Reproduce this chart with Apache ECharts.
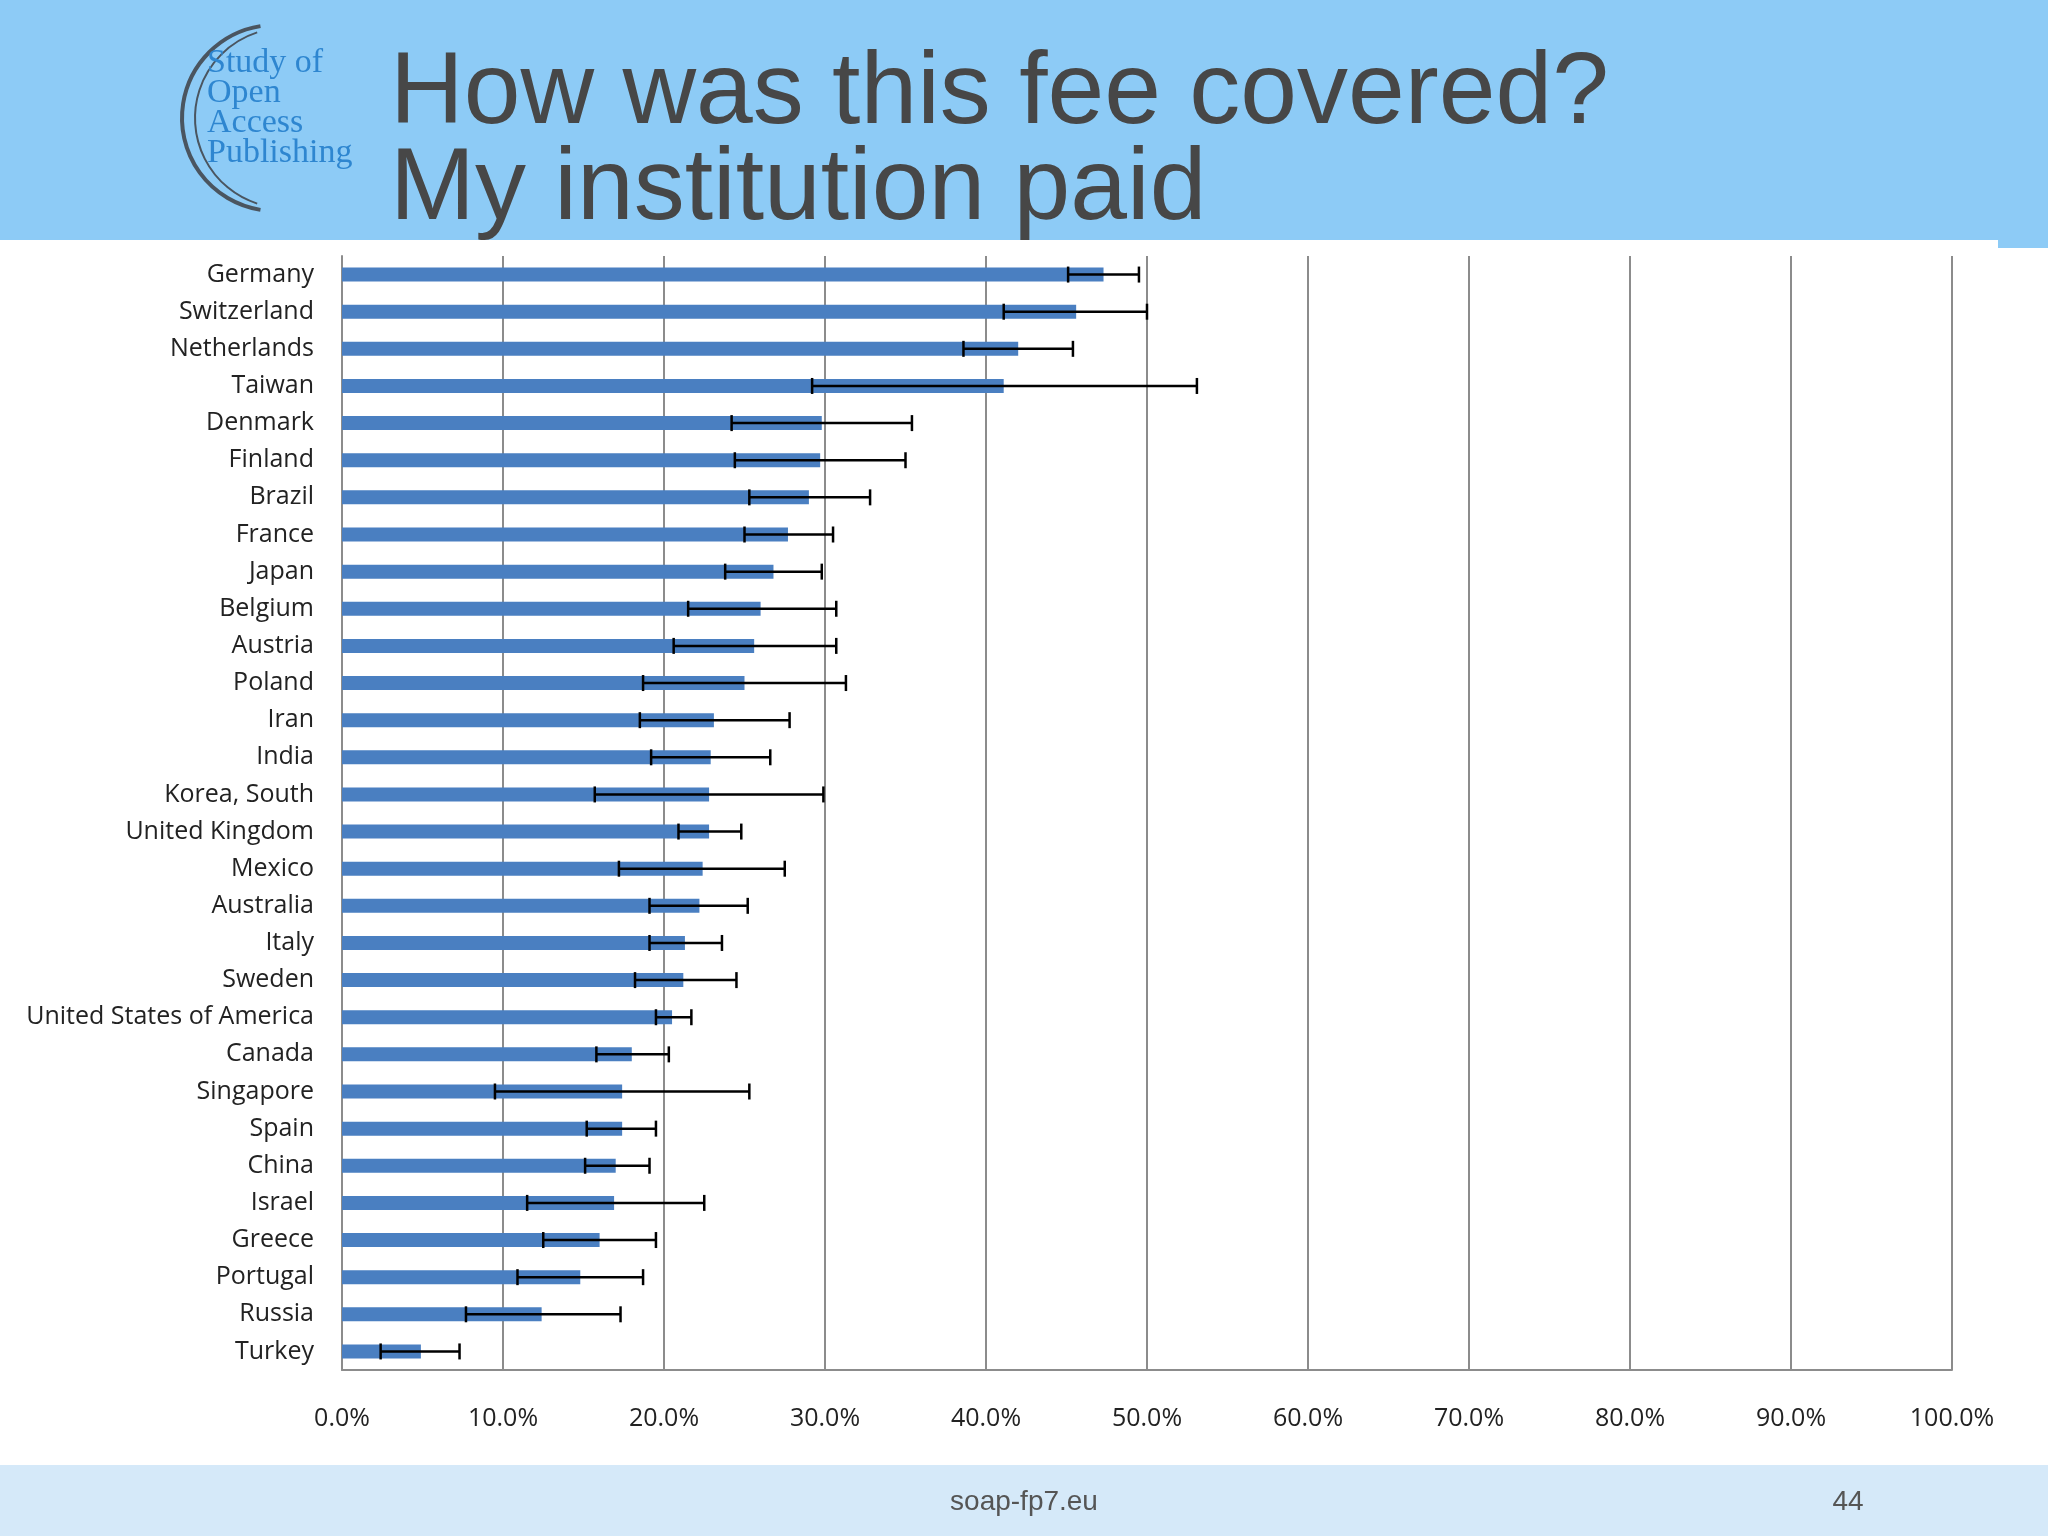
<!DOCTYPE html>
<html><head><meta charset="utf-8">
<script src="https://cdn.jsdelivr.net/npm/echarts@6/dist/echarts.min.js"></script>
<style>html,body{margin:0;padding:0;background:#fff}#c{width:2048px;height:1536px}</style>
</head><body><div id="c"></div>
<script>
const countries = ["Germany","Switzerland","Netherlands","Taiwan","Denmark","Finland","Brazil","France","Japan","Belgium","Austria","Poland","Iran","India","Korea, South","United Kingdom","Mexico","Australia","Italy","Sweden","United States of America","Canada","Singapore","Spain","China","Israel","Greece","Portugal","Russia","Turkey"];
const values = [47.3,45.6,42.0,41.1,29.8,29.7,29.0,27.7,26.8,26.0,25.6,25.0,23.1,22.9,22.8,22.8,22.4,22.2,21.3,21.2,20.5,18.0,17.4,17.4,17.0,16.9,16.0,14.8,12.4,4.9];
const lowErr = [45.1,41.1,38.6,29.2,24.2,24.4,25.3,25.0,23.8,21.5,20.6,18.7,18.5,19.2,15.7,20.9,17.2,19.1,19.1,18.2,19.5,15.8,9.5,15.2,15.1,11.5,12.5,10.9,7.7,2.4];
const highErr = [49.5,50.0,45.4,53.1,35.4,35.0,32.8,30.5,29.8,30.7,30.7,31.3,27.8,26.6,29.9,24.8,27.5,25.2,23.6,24.5,21.7,20.3,25.3,19.5,19.1,22.5,19.5,18.7,17.3,7.3];
const xTicks = [0,10,20,30,40,50,60,70,80,90,100];

const chart = echarts.init(document.getElementById('c'));
const errData = countries.map((c,i)=>[i,lowErr[i],highErr[i]]);
chart.setOption({
  animation:false,
  grid:{left:342,right:96,top:256,bottom:166},
  xAxis:{type:'value',min:0,max:100,interval:10,position:'bottom',
    axisLine:{show:true,lineStyle:{color:'#8c8c8c',width:2}},axisTick:{show:false},
    splitLine:{lineStyle:{color:'#8c8c8c',width:2}},
    axisLabel:{margin:36,color:'#222',fontSize:25,fontFamily:'Open Sans',formatter:v=>v.toFixed(1)+'%'}},
  yAxis:{type:'category',data:countries,inverse:true,
    axisLine:{show:true,lineStyle:{color:'#8c8c8c',width:2}},axisTick:{show:false},
    axisLabel:{margin:28,color:'#222',fontSize:25,fontFamily:'Open Sans'}},
  series:[
    {type:'bar',data:values,barWidth:14,itemStyle:{color:'#4a7fc1'}},
    {type:'custom',data:errData,encode:{x:[1,2],y:0},z:5,
     renderItem:(p,api)=>{
       const a=api.coord([api.value(1),api.value(0)]);
       const b=api.coord([api.value(2),api.value(0)]);
       const h=8;
       return {type:'group',children:[
         {type:'line',shape:{x1:a[0],y1:a[1],x2:b[0],y2:b[1]},style:{stroke:'#000',lineWidth:2.5}},
         {type:'line',shape:{x1:a[0],y1:a[1]-h,x2:a[0],y2:a[1]+h},style:{stroke:'#000',lineWidth:2.5}},
         {type:'line',shape:{x1:b[0],y1:b[1]-h,x2:b[0],y2:b[1]+h},style:{stroke:'#000',lineWidth:2.5}}
       ]};
     }}
  ],
  graphic:[
    {type:'rect',z:-10,shape:{x:0,y:0,width:2048,height:240},style:{fill:'#8dcbf6'}},
    {type:'rect',z:-9,shape:{x:1998,y:240,width:50,height:8},style:{fill:'#8dcbf6'}},
    {type:'rect',z:-10,shape:{x:0,y:1465,width:2048,height:71},style:{fill:'#d5e9f9'}},
    {type:'text',left:390,top:44,style:{text:'How was this fee covered?',fontSize:102,fontFamily:'Liberation Sans',fill:'#474747'}},
    {type:'text',left:390,top:140,style:{text:'My institution paid',fontSize:102,fontFamily:'Liberation Sans',fill:'#474747'}},
    {type:'arc',shape:{cx:275,cy:118,r:93,startAngle:Math.PI*0.55,endAngle:Math.PI*1.45},style:{stroke:'#4a5560',lineWidth:4,fill:null}},
    {type:'arc',shape:{cx:285,cy:118,r:90,startAngle:Math.PI*0.6,endAngle:Math.PI*1.4},style:{stroke:'#4a5560',lineWidth:2,fill:null}},
    {type:'text',left:207,top:46,style:{text:'Study of\nOpen\nAccess\nPublishing',fontSize:34,lineHeight:30,fontFamily:'Liberation Serif',fill:'#2e86d0'}},
    {type:'text',x:1024,y:1502,style:{text:'soap-fp7.eu',fontSize:28,fontFamily:'Liberation Sans',fill:'#555',align:'center',verticalAlign:'middle'}},
    {type:'text',x:1848,y:1502,style:{text:'44',fontSize:28,fontFamily:'Liberation Sans',fill:'#555',align:'center',verticalAlign:'middle'}}
  ]
});
</script></body></html>
